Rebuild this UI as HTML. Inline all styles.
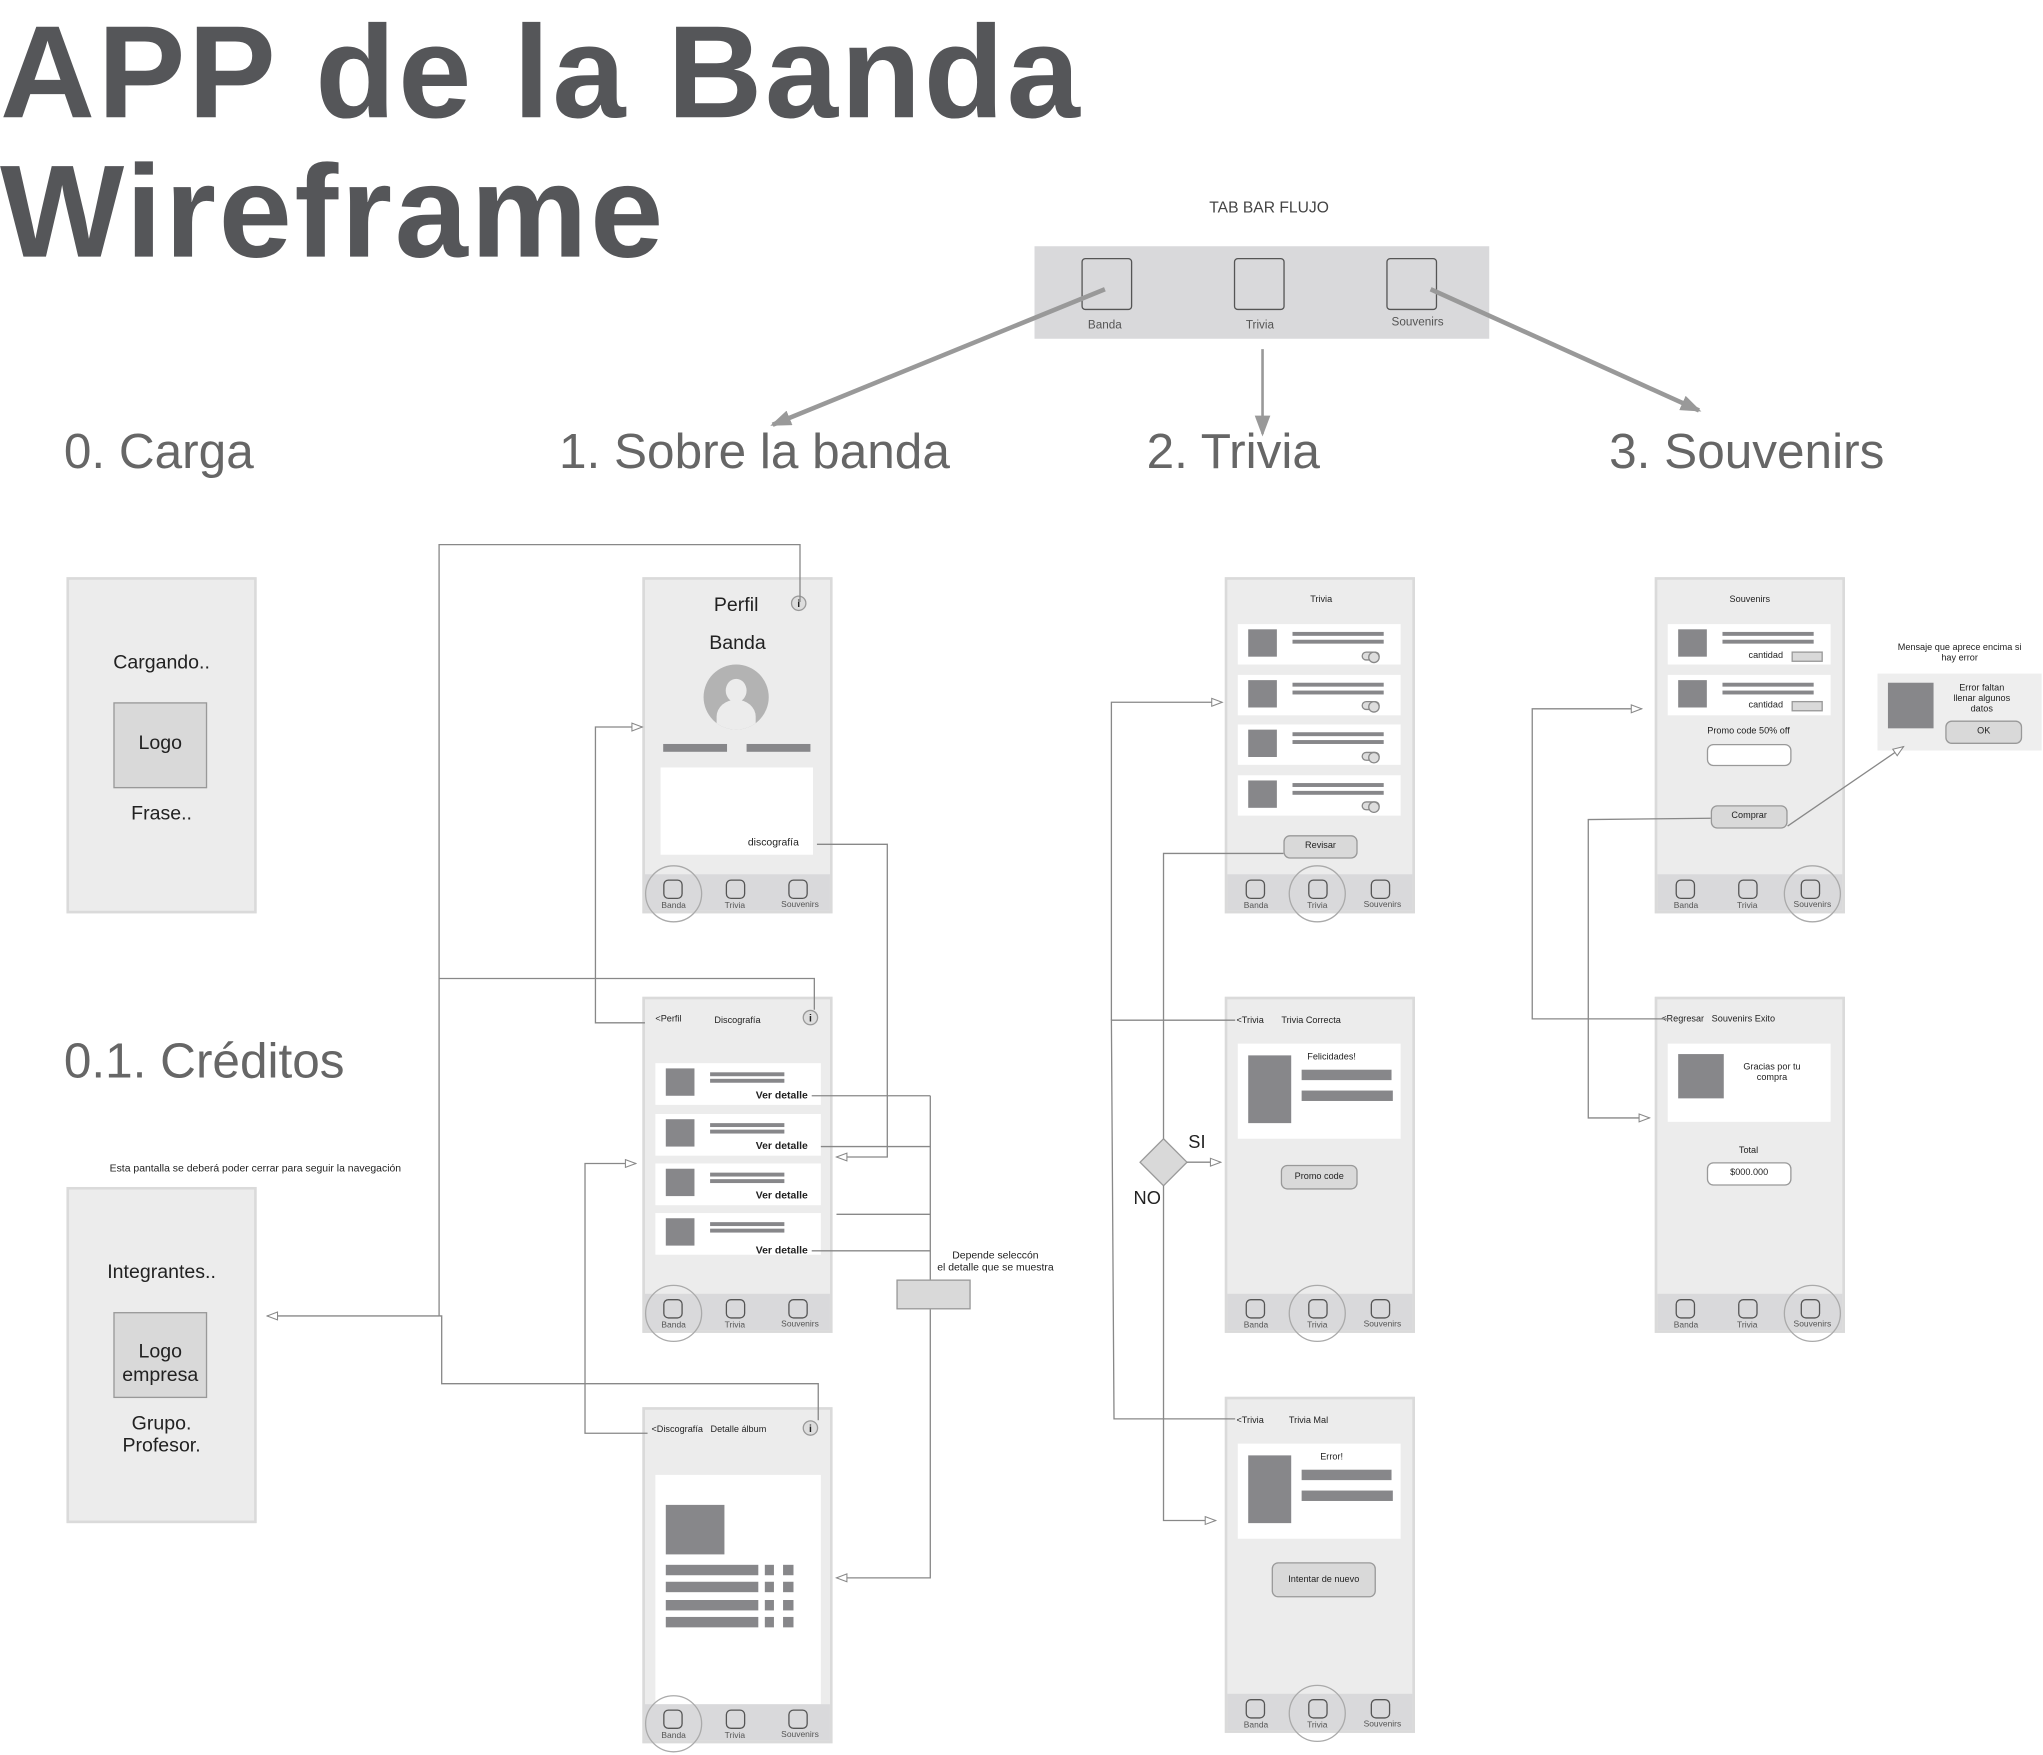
<!DOCTYPE html>
<html><head><meta charset="utf-8">
<style>
html,body{margin:0;padding:0;background:#fff;}
body{width:2043px;height:1755px;overflow:hidden;position:relative;}
#w{position:absolute;left:0;top:0;width:1568px;height:1347px;transform:scale(1.30293);transform-origin:0 0;font-family:"Liberation Sans",Arial,sans-serif;color:#222;}
#w div{position:absolute;box-sizing:border-box;}
.ph{background:#ececec;border:2px solid #dadada;width:146px;height:258px;}
.bar{background:#d9d9db;width:142px;height:28px;}
.ic{width:15px;height:15px;border:1.6px solid #555;border-radius:4px;}
.t{white-space:nowrap;transform:translateX(-50%);text-align:center;}
.lb{font-size:6.5px;color:#555;}
.ac{width:44px;height:44px;border:1.5px solid #aaa;border-radius:50%;}
.wh{background:#fff;}
.g{background:#87878a;}
.ln{background:#87878a;height:3px;}
.s7{font-size:7px;}
.btn{background:#d9d9d9;border:1px solid #999;border-radius:5px;font-size:7px;text-align:center;}
.inf{width:12px;height:12px;border:1px solid #999;border-radius:50%;background:#ddd;font-size:8px;font-weight:bold;text-align:center;line-height:11px;}
.sec{font-size:38px;color:#666;white-space:nowrap;}
.vd{font-size:8px;font-weight:bold;white-space:nowrap;}
.tg{width:14px;height:7px;border:1px solid #888;border-radius:4px;background:#ddd;}
.tg:after{content:"";position:absolute;right:-1px;top:-1px;width:7px;height:7px;border:1px solid #888;border-radius:50%;background:#ddd;}
</style></head><body><div id="w">

<div style="left:0;top:3px;font-size:101px;font-weight:bold;color:#555659;line-height:107px;white-space:nowrap;letter-spacing:2px;">APP de la Banda<br>Wireframe</div>

<div class="t" style="left:974px;top:152px;font-size:12px;color:#444;">TAB BAR FLUJO</div>
<div style="left:794px;top:189px;width:349px;height:71px;background:#d9d9db;"></div>
<div style="left:830px;top:198px;width:39px;height:40px;border:1.5px solid #555;border-radius:3px;"></div>
<div style="left:947px;top:198px;width:39px;height:40px;border:1.5px solid #555;border-radius:3px;"></div>
<div style="left:1064px;top:198px;width:39px;height:40px;border:1.5px solid #555;border-radius:3px;"></div>
<div class="t" style="left:848px;top:244px;font-size:9px;color:#555;">Banda</div>
<div class="t" style="left:967px;top:244px;font-size:9px;color:#555;">Trivia</div>
<div class="t" style="left:1088px;top:242px;font-size:9px;color:#555;">Souvenirs</div>

<div class="sec" style="left:49px;top:326px;">0. Carga</div>
<div class="sec" style="left:429px;top:326px;">1. Sobre la banda</div>
<div class="sec" style="left:880px;top:326px;">2. Trivia</div>
<div class="sec" style="left:1235px;top:326px;">3. Souvenirs</div>
<div class="sec" style="left:49px;top:794px;">0.1. Créditos</div>

<!-- Carga -->
<div class="ph" style="left:51px;top:443px;"></div>
<div class="t" style="left:124px;top:500px;font-size:15px;">Cargando..</div>
<div style="left:87px;top:539px;width:72px;height:66px;background:#d9d9d9;border:1px solid #999;font-size:15px;text-align:center;line-height:62px;">Logo</div>
<div class="t" style="left:124px;top:616px;font-size:15px;">Frase..</div>

<!-- Creditos -->
<div class="t" style="left:196px;top:892px;font-size:8px;">Esta pantalla se deberá poder cerrar para seguir la navegación</div>
<div class="ph" style="left:51px;top:911px;"></div>
<div class="t" style="left:124px;top:968px;font-size:15px;">Integrantes..</div>
<div style="left:87px;top:1007px;width:72px;height:66px;background:#d9d9d9;border:1px solid #999;font-size:15px;text-align:center;line-height:18px;padding-top:21px;">Logo<br>empresa</div>
<div class="t" style="left:124px;top:1084px;font-size:15px;line-height:17px;">Grupo.<br>Profesor.</div>

<!-- Perfil -->
<div class="ph" style="left:493px;top:443px;"></div>
<div class="t" style="left:565px;top:456px;font-size:15px;">Perfil</div>
<div class="inf" style="left:607px;top:457px;">i</div>
<div class="t" style="left:566px;top:485px;font-size:15px;">Banda</div>
<div style="left:540px;top:510px;width:50px;height:50px;border-radius:50%;background:#b3b3b3;overflow:hidden;">
 <div style="left:17px;top:11px;width:16px;height:18px;border-radius:50%;background:#ececec;"></div>
 <div style="left:10px;top:27px;width:30px;height:26px;border-radius:50% 50% 0 0;background:#ececec;"></div>
</div>
<div class="g" style="left:509px;top:571px;width:49px;height:6px;"></div>
<div class="g" style="left:573px;top:571px;width:49px;height:6px;"></div>
<div class="wh" style="left:507px;top:589px;width:117px;height:67px;"></div>
<div style="left:574px;top:642px;font-size:8px;white-space:nowrap;">discografía</div>

<!-- Discografia -->
<div class="ph" style="left:493px;top:765px;"></div>
<div class="s7" style="left:503px;top:779px;white-space:nowrap;">&lt;Perfil</div>
<div class="t s7" style="left:566px;top:780px;">Discografía</div>
<div class="inf" style="left:616px;top:775px;">i</div>
<div class="wh" style="left:503px;top:816px;width:127px;height:32px;"></div>
<div class="wh" style="left:503px;top:855px;width:127px;height:32px;"></div>
<div class="wh" style="left:503px;top:893px;width:127px;height:32px;"></div>
<div class="wh" style="left:503px;top:931px;width:127px;height:32px;"></div>
<div class="g" style="left:511px;top:820px;width:22px;height:21px;"></div>
<div class="g" style="left:511px;top:859px;width:22px;height:21px;"></div>
<div class="g" style="left:511px;top:897px;width:22px;height:21px;"></div>
<div class="g" style="left:511px;top:935px;width:22px;height:21px;"></div>
<div class="ln" style="left:545px;top:823px;width:57px;"></div><div class="ln" style="left:545px;top:828px;width:57px;"></div>
<div class="ln" style="left:545px;top:862px;width:57px;"></div><div class="ln" style="left:545px;top:867px;width:57px;"></div>
<div class="ln" style="left:545px;top:900px;width:57px;"></div><div class="ln" style="left:545px;top:905px;width:57px;"></div>
<div class="ln" style="left:545px;top:938px;width:57px;"></div><div class="ln" style="left:545px;top:943px;width:57px;"></div>
<div class="vd" style="left:580px;top:836px;">Ver detalle</div>
<div class="vd" style="left:580px;top:875px;">Ver detalle</div>
<div class="vd" style="left:580px;top:913px;">Ver detalle</div>
<div class="vd" style="left:580px;top:955px;">Ver detalle</div>

<!-- Detalle album -->
<div class="ph" style="left:493px;top:1080px;"></div>
<div class="s7" style="left:500px;top:1094px;white-space:nowrap;">&lt;Discografía&nbsp;&nbsp; Detalle álbum</div>
<div class="inf" style="left:616px;top:1090px;">i</div>
<div class="wh" style="left:503px;top:1132px;width:127px;height:176px;"></div>
<div class="g" style="left:511px;top:1155px;width:45px;height:38px;"></div>
<div class="g" style="left:511px;top:1201px;width:71px;height:8px;"></div><div class="g" style="left:587px;top:1201px;width:7px;height:8px;"></div><div class="g" style="left:601px;top:1201px;width:8px;height:8px;"></div>
<div class="g" style="left:511px;top:1214px;width:71px;height:8px;"></div><div class="g" style="left:587px;top:1214px;width:7px;height:8px;"></div><div class="g" style="left:601px;top:1214px;width:8px;height:8px;"></div>
<div class="g" style="left:511px;top:1228px;width:71px;height:8px;"></div><div class="g" style="left:587px;top:1228px;width:7px;height:8px;"></div><div class="g" style="left:601px;top:1228px;width:8px;height:8px;"></div>
<div class="g" style="left:511px;top:1241px;width:71px;height:8px;"></div><div class="g" style="left:587px;top:1241px;width:7px;height:8px;"></div><div class="g" style="left:601px;top:1241px;width:8px;height:8px;"></div>

<!-- Depende box -->
<div class="t" style="left:764px;top:959px;font-size:8px;line-height:9px;">Depende seleccón<br>el detalle que se muestra</div>
<div style="left:688px;top:982px;width:57px;height:23px;background:#d9d9d9;border:1px solid #999;"></div>

<!-- Trivia -->
<div class="ph" style="left:940px;top:443px;"></div>
<div class="t s7" style="left:1014px;top:457px;">Trivia</div>
<div class="wh" style="left:950px;top:479px;width:125px;height:31px;"></div>
<div class="wh" style="left:950px;top:518px;width:125px;height:31px;"></div>
<div class="wh" style="left:950px;top:556px;width:125px;height:31px;"></div>
<div class="wh" style="left:950px;top:595px;width:125px;height:31px;"></div>
<div class="g" style="left:958px;top:483px;width:22px;height:21px;"></div>
<div class="g" style="left:958px;top:522px;width:22px;height:21px;"></div>
<div class="g" style="left:958px;top:560px;width:22px;height:21px;"></div>
<div class="g" style="left:958px;top:599px;width:22px;height:21px;"></div>
<div class="ln" style="left:992px;top:485px;width:70px;"></div><div class="ln" style="left:992px;top:491px;width:70px;"></div>
<div class="ln" style="left:992px;top:524px;width:70px;"></div><div class="ln" style="left:992px;top:530px;width:70px;"></div>
<div class="ln" style="left:992px;top:562px;width:70px;"></div><div class="ln" style="left:992px;top:568px;width:70px;"></div>
<div class="ln" style="left:992px;top:601px;width:70px;"></div><div class="ln" style="left:992px;top:607px;width:70px;"></div>
<div class="tg" style="left:1045px;top:500px;"></div>
<div class="tg" style="left:1045px;top:538px;"></div>
<div class="tg" style="left:1045px;top:577px;"></div>
<div class="tg" style="left:1045px;top:615px;"></div>
<div class="btn" style="left:985px;top:641px;width:57px;height:18px;line-height:16px;">Revisar</div>

<!-- Trivia Correcta -->
<div class="ph" style="left:940px;top:765px;"></div>
<div class="s7" style="left:949px;top:780px;white-space:nowrap;">&lt;Trivia&nbsp;&nbsp;&nbsp;&nbsp;&nbsp;&nbsp; Trivia Correcta</div>
<div class="wh" style="left:950px;top:801px;width:125px;height:73px;"></div>
<div class="g" style="left:958px;top:810px;width:33px;height:52px;"></div>
<div class="t s7" style="left:1022px;top:808px;">Felicidades!</div>
<div class="g" style="left:999px;top:821px;width:69px;height:8px;"></div>
<div class="g" style="left:999px;top:837px;width:70px;height:8px;"></div>
<div class="btn" style="left:983px;top:894px;width:59px;height:19px;line-height:17px;">Promo code</div>

<!-- Trivia Mal -->
<div class="ph" style="left:940px;top:1072px;"></div>
<div class="s7" style="left:949px;top:1087px;white-space:nowrap;">&lt;Trivia&nbsp;&nbsp;&nbsp;&nbsp;&nbsp;&nbsp;&nbsp;&nbsp;&nbsp; Trivia Mal</div>
<div class="wh" style="left:950px;top:1108px;width:125px;height:73px;"></div>
<div class="g" style="left:958px;top:1117px;width:33px;height:52px;"></div>
<div class="t s7" style="left:1022px;top:1115px;">Error!</div>
<div class="g" style="left:999px;top:1128px;width:69px;height:8px;"></div>
<div class="g" style="left:999px;top:1144px;width:70px;height:8px;"></div>
<div class="btn" style="left:976px;top:1199px;width:80px;height:27px;line-height:25px;">Intentar de nuevo</div>

<!-- Souvenirs -->
<div class="ph" style="left:1270px;top:443px;"></div>
<div class="t s7" style="left:1343px;top:457px;">Souvenirs</div>
<div class="wh" style="left:1280px;top:479px;width:125px;height:31px;"></div>
<div class="wh" style="left:1280px;top:518px;width:125px;height:31px;"></div>
<div class="g" style="left:1288px;top:483px;width:22px;height:21px;"></div>
<div class="g" style="left:1288px;top:522px;width:22px;height:21px;"></div>
<div class="ln" style="left:1322px;top:485px;width:70px;"></div><div class="ln" style="left:1322px;top:491px;width:70px;"></div>
<div class="ln" style="left:1322px;top:524px;width:70px;"></div><div class="ln" style="left:1322px;top:530px;width:70px;"></div>
<div class="s7" style="left:1342px;top:500px;white-space:nowrap;">cantidad</div>
<div class="s7" style="left:1342px;top:538px;white-space:nowrap;">cantidad</div>
<div style="left:1375px;top:500px;width:24px;height:8px;background:#d9d9d9;border:1px solid #999;"></div>
<div style="left:1375px;top:538px;width:24px;height:8px;background:#d9d9d9;border:1px solid #999;"></div>
<div class="t s7" style="left:1342px;top:558px;">Promo code 50% off</div>
<div style="left:1310px;top:571px;width:65px;height:17px;background:#fff;border:1px solid #999;border-radius:5px;"></div>
<div class="btn" style="left:1313px;top:618px;width:59px;height:18px;line-height:16px;">Comprar</div>

<!-- popup -->
<div class="t" style="left:1504px;top:494px;font-size:7px;line-height:8px;">Mensaje que aprece encima si<br>hay error</div>
<div style="left:1441px;top:517px;width:126px;height:59px;background:#eee;"></div>
<div class="g" style="left:1449px;top:524px;width:35px;height:35px;"></div>
<div class="t s7" style="left:1521px;top:525px;line-height:8px;">Error faltan<br>llenar algunos<br>datos</div>
<div class="btn" style="left:1493px;top:553px;width:59px;height:18px;line-height:16px;">OK</div>

<!-- Souvenirs Exito -->
<div class="ph" style="left:1270px;top:765px;"></div>
<div class="s7" style="left:1275px;top:779px;white-space:nowrap;">&lt;Regresar&nbsp;&nbsp; Souvenirs Exito</div>
<div class="wh" style="left:1280px;top:801px;width:125px;height:60px;"></div>
<div class="g" style="left:1288px;top:809px;width:35px;height:34px;"></div>
<div class="t s7" style="left:1360px;top:816px;line-height:8px;">Gracias por tu<br>compra</div>
<div class="t s7" style="left:1342px;top:880px;">Total</div>
<div style="left:1310px;top:892px;width:65px;height:18px;background:#fff;border:1px solid #999;border-radius:5px;font-size:7px;text-align:center;line-height:16px;">$000.000</div>

<!-- tab bars -->
<div class="bar" style="left:495px;top:671px;"></div><div class="ic" style="left:509px;top:675px;"></div><div class="ic" style="left:557px;top:675px;"></div><div class="ic" style="left:605px;top:675px;"></div>
<div class="t lb" style="left:517px;top:692px;">Banda</div><div class="t lb" style="left:564px;top:692px;">Trivia</div><div class="t lb" style="left:614px;top:691px;">Souvenirs</div>
<div class="ac" style="left:495px;top:664px;"></div>

<div class="bar" style="left:495px;top:993px;"></div><div class="ic" style="left:509px;top:997px;"></div><div class="ic" style="left:557px;top:997px;"></div><div class="ic" style="left:605px;top:997px;"></div>
<div class="t lb" style="left:517px;top:1014px;">Banda</div><div class="t lb" style="left:564px;top:1014px;">Trivia</div><div class="t lb" style="left:614px;top:1013px;">Souvenirs</div>
<div class="ac" style="left:495px;top:986px;"></div>

<div class="bar" style="left:495px;top:1308px;"></div><div class="ic" style="left:509px;top:1312px;"></div><div class="ic" style="left:557px;top:1312px;"></div><div class="ic" style="left:605px;top:1312px;"></div>
<div class="t lb" style="left:517px;top:1329px;">Banda</div><div class="t lb" style="left:564px;top:1329px;">Trivia</div><div class="t lb" style="left:614px;top:1328px;">Souvenirs</div>
<div class="ac" style="left:495px;top:1301px;"></div>

<div class="bar" style="left:942px;top:671px;"></div><div class="ic" style="left:956px;top:675px;"></div><div class="ic" style="left:1004px;top:675px;"></div><div class="ic" style="left:1052px;top:675px;"></div>
<div class="t lb" style="left:964px;top:692px;">Banda</div><div class="t lb" style="left:1011px;top:692px;">Trivia</div><div class="t lb" style="left:1061px;top:691px;">Souvenirs</div>
<div class="ac" style="left:989px;top:664px;"></div>

<div class="bar" style="left:942px;top:993px;"></div><div class="ic" style="left:956px;top:997px;"></div><div class="ic" style="left:1004px;top:997px;"></div><div class="ic" style="left:1052px;top:997px;"></div>
<div class="t lb" style="left:964px;top:1014px;">Banda</div><div class="t lb" style="left:1011px;top:1014px;">Trivia</div><div class="t lb" style="left:1061px;top:1013px;">Souvenirs</div>
<div class="ac" style="left:989px;top:986px;"></div>

<div class="bar" style="left:942px;top:1300px;"></div><div class="ic" style="left:956px;top:1304px;"></div><div class="ic" style="left:1004px;top:1304px;"></div><div class="ic" style="left:1052px;top:1304px;"></div>
<div class="t lb" style="left:964px;top:1321px;">Banda</div><div class="t lb" style="left:1011px;top:1321px;">Trivia</div><div class="t lb" style="left:1061px;top:1320px;">Souvenirs</div>
<div class="ac" style="left:989px;top:1293px;"></div>

<div class="bar" style="left:1272px;top:671px;"></div><div class="ic" style="left:1286px;top:675px;"></div><div class="ic" style="left:1334px;top:675px;"></div><div class="ic" style="left:1382px;top:675px;"></div>
<div class="t lb" style="left:1294px;top:692px;">Banda</div><div class="t lb" style="left:1341px;top:692px;">Trivia</div><div class="t lb" style="left:1391px;top:691px;">Souvenirs</div>
<div class="ac" style="left:1369px;top:664px;"></div>

<div class="bar" style="left:1272px;top:993px;"></div><div class="ic" style="left:1286px;top:997px;"></div><div class="ic" style="left:1334px;top:997px;"></div><div class="ic" style="left:1382px;top:997px;"></div>
<div class="t lb" style="left:1294px;top:1014px;">Banda</div><div class="t lb" style="left:1341px;top:1014px;">Trivia</div><div class="t lb" style="left:1391px;top:1013px;">Souvenirs</div>
<div class="ac" style="left:1369px;top:986px;"></div>

<!-- SI / NO -->
<div style="left:912px;top:868px;font-size:14px;">SI</div>
<div style="left:870px;top:911px;font-size:14px;">NO</div>

<svg style="position:absolute;left:0;top:0;" width="1568" height="1347" viewBox="0 0 1568 1347">
<defs>
<marker id="m" markerWidth="10" markerHeight="8" refX="9" refY="4" orient="auto" markerUnits="userSpaceOnUse"><path d="M1,1 L9,4 L1,7 Z" fill="#fff" stroke="#888" stroke-width="0.8"/></marker>
<marker id="big" markerWidth="16" markerHeight="12" refX="14" refY="6" orient="auto" markerUnits="userSpaceOnUse"><path d="M0,0 L16,6 L0,12 Z" fill="#999"/></marker>
</defs>
<g stroke="#999" stroke-width="3.5" fill="none">
<line x1="848" y1="222" x2="593" y2="326" marker-end="url(#big)"/>
<line x1="1098" y1="222" x2="1304" y2="315" marker-end="url(#big)"/>
</g>
<line x1="969" y1="268" x2="969" y2="333" stroke="#999" stroke-width="2" marker-end="url(#big)"/>
<polygon points="893,874 911,892 893,910 875,892" fill="#d9d9d9" stroke="#999" stroke-width="1"/>
<g stroke="#888" stroke-width="1" fill="none">
<polyline points="337,1010 337,418 614,418 614,462"/>
<polyline points="337,751 625,751 625,775"/>
<polyline points="337,1010 339,1010 339,1062 628,1062 628,1090"/>
<line x1="337" y1="1010" x2="205" y2="1010" marker-end="url(#m)"/>
<polyline points="495,785 457,785 457,558 493,558" marker-end="url(#m)"/>
<polyline points="627,648 681,648 681,888 642,888" marker-end="url(#m)"/>
<line x1="623" y1="841" x2="714" y2="841"/>
<line x1="630" y1="880" x2="714" y2="880"/>
<line x1="642" y1="932" x2="714" y2="932"/>
<line x1="623" y1="960" x2="714" y2="960"/>
<line x1="714" y1="841" x2="714" y2="982"/>
<polyline points="714,1005 714,1211 642,1211" marker-end="url(#m)"/>
<polyline points="497,1100 449,1100 449,893 488,893" marker-end="url(#m)"/>
<polyline points="948,1089 855,1089 853,783 948,783"/>
<polyline points="853,783 853,539 938,539" marker-end="url(#m)"/>
<polyline points="985,655 893,655 893,874"/>
<line x1="911" y1="892" x2="937" y2="892" marker-end="url(#m)"/>
<polyline points="893,910 893,1167 933,1167" marker-end="url(#m)"/>
<polyline points="1283,782 1176,782 1176,544 1260,544" marker-end="url(#m)"/>
<polyline points="1313,628 1219,629 1219,858 1266,858" marker-end="url(#m)"/>
<line x1="1372" y1="634" x2="1461" y2="573" marker-end="url(#m)"/>
</g>
</svg>
</div></body></html>
